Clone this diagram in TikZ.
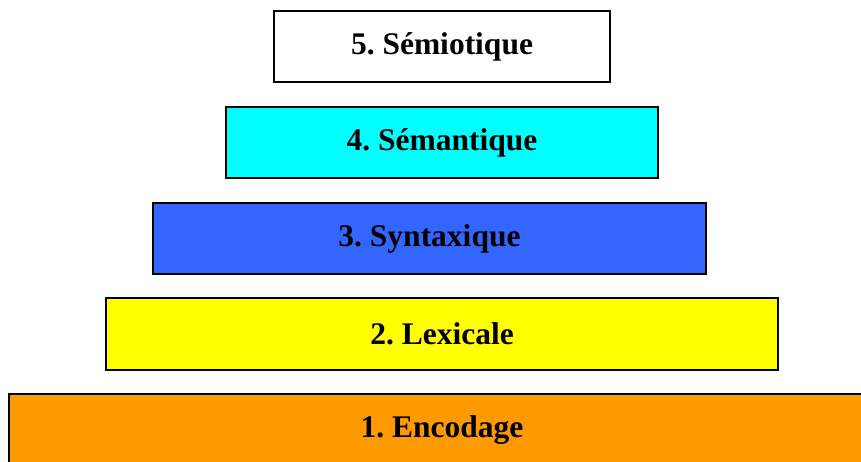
\documentclass[tikz,border=0pt]{standalone}
\usepackage{fontspec}
\setmainfont{Liberation Serif}
\frenchspacing
\definecolor{layerorange}{HTML}{FF9900}
\definecolor{layerblue}{HTML}{3366FF}
\definecolor{layercyan}{HTML}{00FFFF}
\definecolor{layeryellow}{HTML}{FFFF00}
\begin{document}
\begin{tikzpicture}[x=1pt,y=-1pt,
  layer/.style={draw=black, line width=2pt, inner sep=0pt, outer sep=0pt,
    font=\fontsize{31.5}{36}\selectfont\bfseries}]
\useasboundingbox (0,0) rectangle (861,462);
\begin{scope}
\clip (0,0) rectangle (861,462);
% Five stacked layers, narrowest on top
\node[layer, fill=white, minimum width=336pt, minimum height=71pt] (l5) at (442,46.5) {5. Sémiotique};
\node[layer, fill=layercyan, minimum width=432pt, minimum height=71pt] (l4) at (442,142.5) {4. Sémantique};
\node[layer, fill=layerblue, minimum width=553pt, minimum height=71pt] (l3) at (429.5,238.5) {3. Syntaxique};
\node[layer, fill=layeryellow, minimum width=672pt, minimum height=72pt] (l2) at (442,334) {2. Lexicale};
\node[layer, fill=layerorange, minimum width=866pt, minimum height=72pt] (l1) at (442,430) {1. Encodage};
\end{scope}
\end{tikzpicture}
\end{document}
